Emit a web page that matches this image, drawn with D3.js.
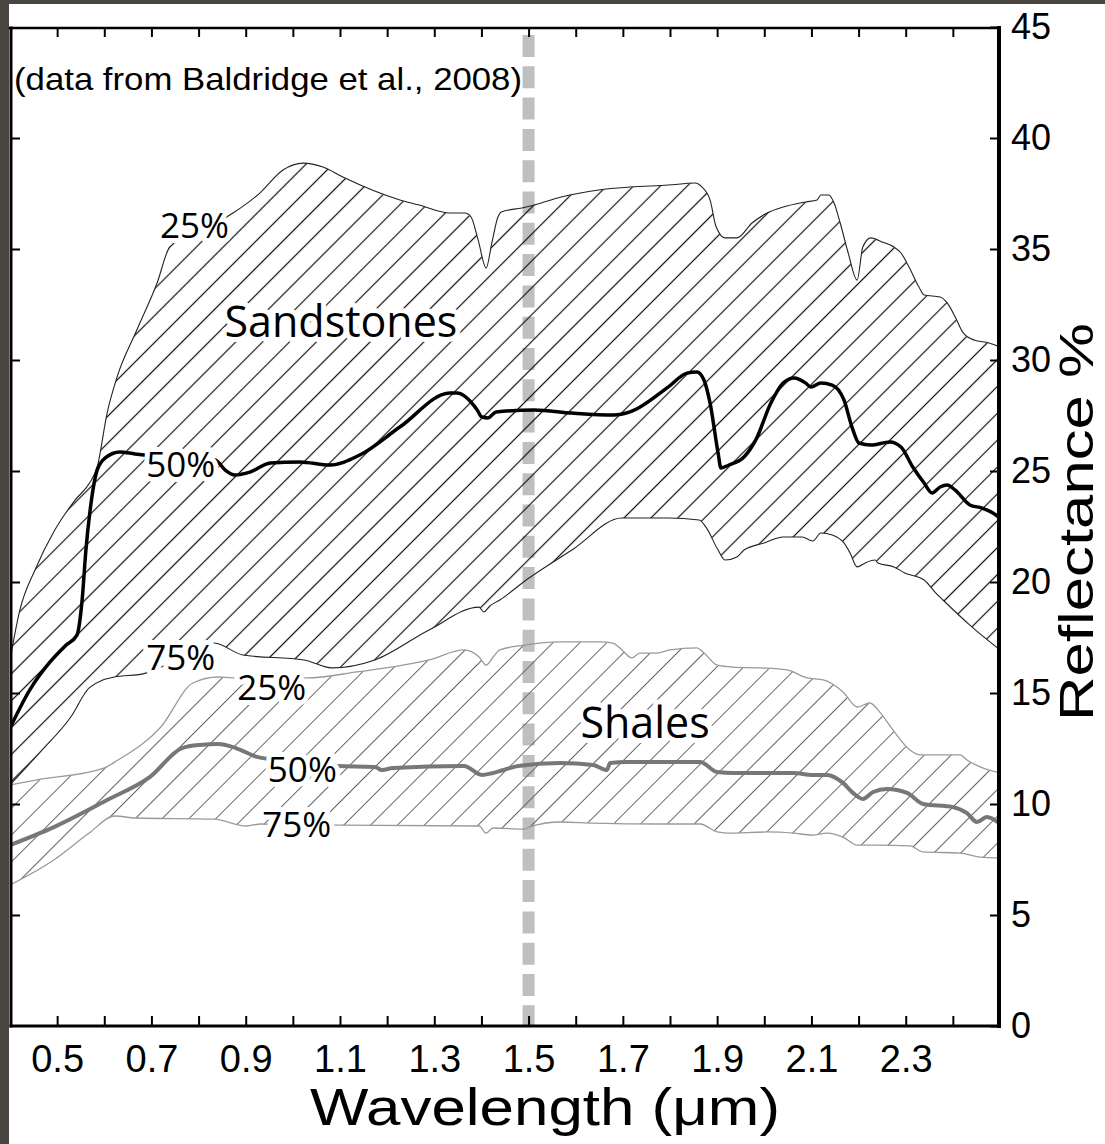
<!DOCTYPE html>
<html>
<head>
<meta charset="utf-8">
<script src="https://cdn.jsdelivr.net/npm/d3@7"></script>
<style>
  html, body { margin: 0; padding: 0; background: #48443f; }
  svg { display: block; }
</style>
</head>
<body>
<svg id="chart" width="1105" height="1144"></svg>
<script>
// percentile spectra, [wavelength µm, reflectance %]
var sand25 = [[0.400,16.49],[0.421,18.74],[0.453,20.54],[0.495,22.34],[0.538,23.69],[0.570,24.50],[0.585,25.18],
  [0.606,27.61],[0.627,29.23],[0.669,31.35],[0.712,33.47],[0.739,35.09],[0.803,35.81],[0.873,36.62],[0.930,37.52],
  [0.979,38.56],[1.022,38.87],[1.064,38.69],[1.106,38.24],[1.227,37.21],[1.268,36.98],[1.333,36.62],[1.365,36.62],
  [1.378,36.44],[1.393,35.41],[1.410,34.14],[1.422,35.27],[1.435,36.44],[1.442,36.67],[1.486,36.85],[1.512,36.98],
  [1.569,37.34],[1.649,37.66],[1.715,37.79],[1.796,37.88],[1.853,37.97],[1.868,37.79],[1.885,37.21],[1.898,35.99],
  [1.917,35.50],[1.942,35.50],[1.974,36.17],[2.006,36.62],[2.040,36.89],[2.088,37.12],[2.112,37.21],[2.120,37.43],
  [2.137,37.43],[2.148,37.07],[2.161,36.17],[2.178,34.82],[2.197,33.60],[2.209,35.09],[2.226,35.50],[2.250,35.32],
  [2.275,35.09],[2.290,34.82],[2.307,34.19],[2.328,33.29],[2.339,32.93],[2.373,32.84],[2.388,32.57],[2.405,31.94],
  [2.422,31.22],[2.445,30.90],[2.477,30.77],[2.500,30.59]];

var sand50 = [[0.400,13.42],[0.442,15.14],[0.485,16.40],[0.517,17.12],[0.542,17.61],[0.553,19.19],[0.561,21.44],
  [0.570,23.24],[0.585,25.05],[0.602,25.59],[0.633,25.86],[0.665,25.77],[0.750,25.59],[0.835,25.50],[0.856,25.05],
  [0.877,24.82],[0.909,24.95],[0.952,25.36],[1.015,25.41],[1.079,25.27],[1.142,25.72],[1.227,26.98],[1.333,28.51],
  [1.348,28.51],[1.391,27.75],[1.401,27.43],[1.414,27.39],[1.431,27.66],[1.512,27.75],[1.592,27.61],[1.681,27.52],
  [1.715,27.66],[1.796,28.78],[1.836,29.41],[1.857,29.46],[1.872,29.10],[1.885,28.06],[1.902,25.81],[1.908,25.14],
  [1.925,25.27],[1.957,25.63],[1.982,26.40],[2.014,28.06],[2.040,28.96],[2.063,29.19],[2.088,28.96],[2.099,28.78],
  [2.120,28.96],[2.144,28.87],[2.169,28.20],[2.186,26.98],[2.201,26.26],[2.226,26.17],[2.267,26.31],[2.290,26.08],
  [2.315,25.18],[2.339,24.46],[2.356,24.01],[2.373,24.28],[2.388,24.37],[2.405,24.14],[2.436,23.47],[2.462,23.33],
  [2.485,23.11],[2.500,22.88]];

var sand75 = [[0.400,10.86],[0.464,12.34],[0.529,13.92],[0.568,15.23],[0.621,15.72],[0.682,15.86],[0.761,16.58],
  [0.833,17.25],[0.894,16.71],[1.024,16.49],[1.083,16.13],[1.174,16.49],[1.289,17.84],[1.395,18.87],[1.405,18.65],
  [1.418,18.92],[1.439,19.19],[1.495,20.09],[1.592,21.44],[1.698,22.88],[1.796,22.88],[1.862,22.79],[1.876,22.48],
  [1.902,21.44],[1.917,20.99],[1.942,21.13],[1.957,21.44],[2.000,21.76],[2.040,22.03],[2.080,22.03],[2.103,21.85],
  [2.120,22.21],[2.144,22.12],[2.169,21.76],[2.182,21.31],[2.197,20.68],[2.214,20.86],[2.235,20.99],[2.241,20.86],
  [2.275,20.68],[2.298,20.41],[2.339,20.09],[2.364,19.50],[2.379,19.19],[2.436,18.06],[2.500,16.94]];

var shale25 = [[0.400,10.86],[0.455,11.08],[0.599,11.62],[0.629,11.98],[0.720,13.47],[0.788,15.45],[0.841,15.72],
  [0.871,15.68],[0.952,15.77],[1.030,15.68],[1.136,15.95],[1.289,16.49],[1.363,16.94],[1.395,16.62],[1.410,16.26],
  [1.425,16.62],[1.439,16.94],[1.492,17.16],[1.567,17.30],[1.652,17.30],[1.679,17.25],[1.698,16.94],[1.719,16.58],
  [1.736,16.80],[1.772,16.80],[1.800,16.94],[1.857,17.03],[1.870,16.85],[1.900,16.26],[1.934,16.17],[1.991,16.13],
  [2.048,16.04],[2.091,15.68],[2.125,15.59],[2.167,15.05],[2.197,14.37],[2.224,14.55],[2.245,14.14],[2.273,13.33],
  [2.309,12.43],[2.330,12.21],[2.415,12.21],[2.430,11.98],[2.458,11.67],[2.500,11.40]];

var shale50 = [[0.400,8.15],[0.493,8.96],[0.606,10.18],[0.697,11.22],[0.765,12.52],[0.803,12.66],[0.841,12.70],
  [0.879,12.52],[0.924,12.12],[0.947,12.03],[1.015,11.80],[1.096,11.71],[1.174,11.67],[1.189,11.53],[1.212,11.62],
  [1.363,11.71],[1.401,11.31],[1.425,11.40],[1.478,11.71],[1.567,11.85],[1.637,11.76],[1.666,11.53],[1.673,11.85],
  [1.709,11.89],[1.864,11.89],[1.900,11.44],[1.934,11.40],[2.061,11.40],[2.103,11.31],[2.133,11.31],[2.167,10.95],
  [2.188,10.50],[2.209,10.23],[2.231,10.54],[2.260,10.68],[2.303,10.50],[2.337,10.00],[2.400,9.86],[2.430,9.59],
  [2.451,9.19],[2.472,9.41],[2.500,9.10]];

var shale75 = [[0.400,6.35],[0.493,7.48],[0.568,8.69],[0.621,9.46],[0.667,9.37],[0.833,9.32],[0.901,9.01],
  [0.932,9.10],[1.015,9.05],[1.102,9.05],[1.395,9.01],[1.410,8.69],[1.425,8.92],[1.492,8.87],[1.501,8.96],
  [1.567,9.19],[1.637,9.14],[1.779,9.10],[1.864,9.10],[1.900,8.74],[1.921,8.69],[2.006,8.74],[2.061,8.69],
  [2.103,8.60],[2.133,8.69],[2.167,8.51],[2.197,8.15],[2.239,8.15],[2.309,8.11],[2.337,7.84],[2.415,7.79],
  [2.458,7.61],[2.500,7.57]];

// axis ticks
var xTicks = [0.5,0.6,0.7,0.8,0.9,1.0,1.1,1.2,1.3,1.4,1.5,1.6,1.7,1.8,1.9,2.0,2.1,2.2,2.3,2.4];
var xLabels = ["0.5","0.7","0.9","1.1","1.3","1.5","1.7","1.9","2.1","2.3"];
var yTicks = [0,5,10,15,20,25,30,35,40,45];
var markerWavelength = 1.5;

// curve labels: text, wavelength/reflectance anchor of the label's left baseline
var bandLabels = [
  { text: "Sandstones", x: 0.855, y: 31.05, size: 43 },
  { text: "Shales", x: 1.610, y: 12.97, size: 43 },
  { text: "25%", x: 0.718, y: 35.5, size: 35 },
  { text: "50%", x: 0.689, y: 24.71, size: 35 },
  { text: "75%", x: 0.689, y: 16.04, size: 35 },
  { text: "25%", x: 0.882, y: 14.69, size: 35 },
  { text: "50%", x: 0.947, y: 11.0, size: 35 },
  { text: "75%", x: 0.935, y: 8.51, size: 35 }
];

var svg = d3.select("#chart");
var x = d3.scaleLinear().domain([0.4, 2.5]).range([10, 1000]);
var y = d3.scaleLinear().domain([0, 45]).range([1026, 27]);

// paper
svg.append("rect").attr("x", 9).attr("y", 4).attr("width", 1096).attr("height", 1140).attr("fill", "#fff");

var defs = svg.append("defs");
defs.append("clipPath").attr("id", "plotClip")
  .append("rect").attr("x", 10).attr("y", 27).attr("width", 990).attr("height", 999);

function hatch(id, color, width) {
  var p = defs.append("pattern").attr("id", id)
    .attr("patternUnits", "userSpaceOnUse")
    .attr("width", 19).attr("height", 19)
    .attr("patternTransform", "rotate(45)");
  p.append("line").attr("x1", 9.5).attr("y1", 0).attr("x2", 9.5).attr("y2", 19)
    .attr("stroke", color).attr("stroke-width", width);
}
hatch("hatchSand", "#111", 1.2);
hatch("hatchShale", "#666", 1.0);

var plot = svg.append("g").attr("clip-path", "url(#plotClip)");

// dashed marker at 1.5 µm
plot.append("line")
  .attr("x1", x(markerWavelength)).attr("x2", x(markerWavelength))
  .attr("y1", 35).attr("y2", y(0))
  .attr("stroke", "#bfbfbf").attr("stroke-width", 12)
  .attr("stroke-dasharray", "22 9.3");

var line = d3.line().x(d => x(d[0])).y(d => y(d[1])).curve(d3.curveMonotoneX);

//upper curve forward, lower curve back, closed
function band(upper, lower) {
  var a = line(upper);
  var b = line(lower.slice().reverse());
  return a + "L" + b.slice(1) + "Z";
}

plot.append("path").attr("d", band(sand25, sand75)).attr("fill", "url(#hatchSand)");
plot.append("path").attr("d", band(shale25, shale75)).attr("fill", "url(#hatchShale)");

[sand25, sand75].forEach(s => {
  plot.append("path").attr("d", line(s)).attr("fill", "none").attr("stroke", "#222").attr("stroke-width", 1.1);
});
[shale25, shale75].forEach(s => {
  plot.append("path").attr("d", line(s)).attr("fill", "none").attr("stroke", "#9a9a9a").attr("stroke-width", 1.3);
});
plot.append("path").attr("d", line(shale50)).attr("fill", "none").attr("stroke", "#777").attr("stroke-width", 4);
plot.append("path").attr("d", line(sand50)).attr("fill", "none").attr("stroke", "#000").attr("stroke-width", 3.5);

// labels with a white halo that breaks hatching and curves
svg.append("g").selectAll("text")
  .data(bandLabels)
  .enter().append("text")
  .attr("x", d => x(d.x))
  .attr("y", d => y(d.y))
  .attr("font-family", "'Open Sans', 'Noto Sans', sans-serif")
  .attr("font-size", d => d.size)
  .attr("fill", "#000")
  .attr("stroke", "#fff").attr("stroke-width", 10)
  .attr("stroke-linejoin", "round")
  .attr("paint-order", "stroke")
  .text(d => d.text);

/** axes */
var axisFont = "'Liberation Sans', Arial, sans-serif";

var bottom = svg.append("g")
  .attr("transform", `translate(0, ${y(0)})`)
  .call(d3.axisBottom(x).tickValues(xTicks).tickSizeInner(-10).tickSizeOuter(0).tickPadding(19)
    .tickFormat(d => xLabels.indexOf(d.toFixed(1)) >= 0 ? d.toFixed(1) : ""));
svg.append("g")
  .attr("transform", `translate(0, ${y(45)})`)
  .call(d3.axisTop(x).tickValues(xTicks).tickSizeInner(-10).tickSizeOuter(0).tickFormat(""));
svg.append("g")
  .attr("transform", `translate(${x(0.4)}, 0)`)
  .call(d3.axisLeft(y).tickValues(yTicks.slice(1, -1)).tickSizeInner(-10).tickSizeOuter(0).tickFormat(""));
var right = svg.append("g")
  .attr("transform", `translate(${x(2.5)}, 0)`)
  .call(d3.axisRight(y).tickValues(yTicks).tickSizeInner(-10).tickSizeOuter(0).tickPadding(11));

svg.selectAll(".domain").remove();
svg.selectAll(".tick line").attr("stroke", "#000").attr("stroke-width", 2);
bottom.selectAll("text").attr("font-family", axisFont).attr("font-size", 38).attr("fill", "#000");
right.selectAll("text").attr("font-family", axisFont).attr("font-size", 36).attr("fill", "#000");

// frame
var frame = svg.append("g").attr("stroke", "#000").attr("stroke-linecap", "square");
frame.append("line").attr("x1", 10).attr("x2", 999).attr("y1", 28).attr("y2", 28).attr("stroke-width", 2.5);
frame.append("line").attr("x1", 11).attr("x2", 11).attr("y1", 28).attr("y2", 1026).attr("stroke-width", 3);
frame.append("line").attr("x1", 999).attr("x2", 999).attr("y1", 28).attr("y2", 1026).attr("stroke-width", 4);
frame.append("line").attr("x1", 11).attr("x2", 999).attr("y1", 1026).attr("y2", 1026).attr("stroke-width", 3);

// titles
svg.append("text")
  .attr("x", 14).attr("y", 90)
  .attr("font-family", axisFont).attr("font-size", 32)
  .attr("textLength", 508).attr("lengthAdjust", "spacingAndGlyphs")
  .text("(data from Baldridge et al., 2008)");

svg.append("text")
  .attr("x", 545).attr("y", 1125)
  .attr("text-anchor", "middle")
  .attr("font-family", axisFont).attr("font-size", 52)
  .attr("textLength", 470).attr("lengthAdjust", "spacingAndGlyphs")
  .text("Wavelength (μm)");

svg.append("text")
  .attr("transform", "translate(1093, 522) rotate(-90)")
  .attr("text-anchor", "middle")
  .attr("font-family", axisFont).attr("font-size", 49)
  .attr("textLength", 398).attr("lengthAdjust", "spacingAndGlyphs")
  .text("Reflectance %");
</script>
</body>
</html>
